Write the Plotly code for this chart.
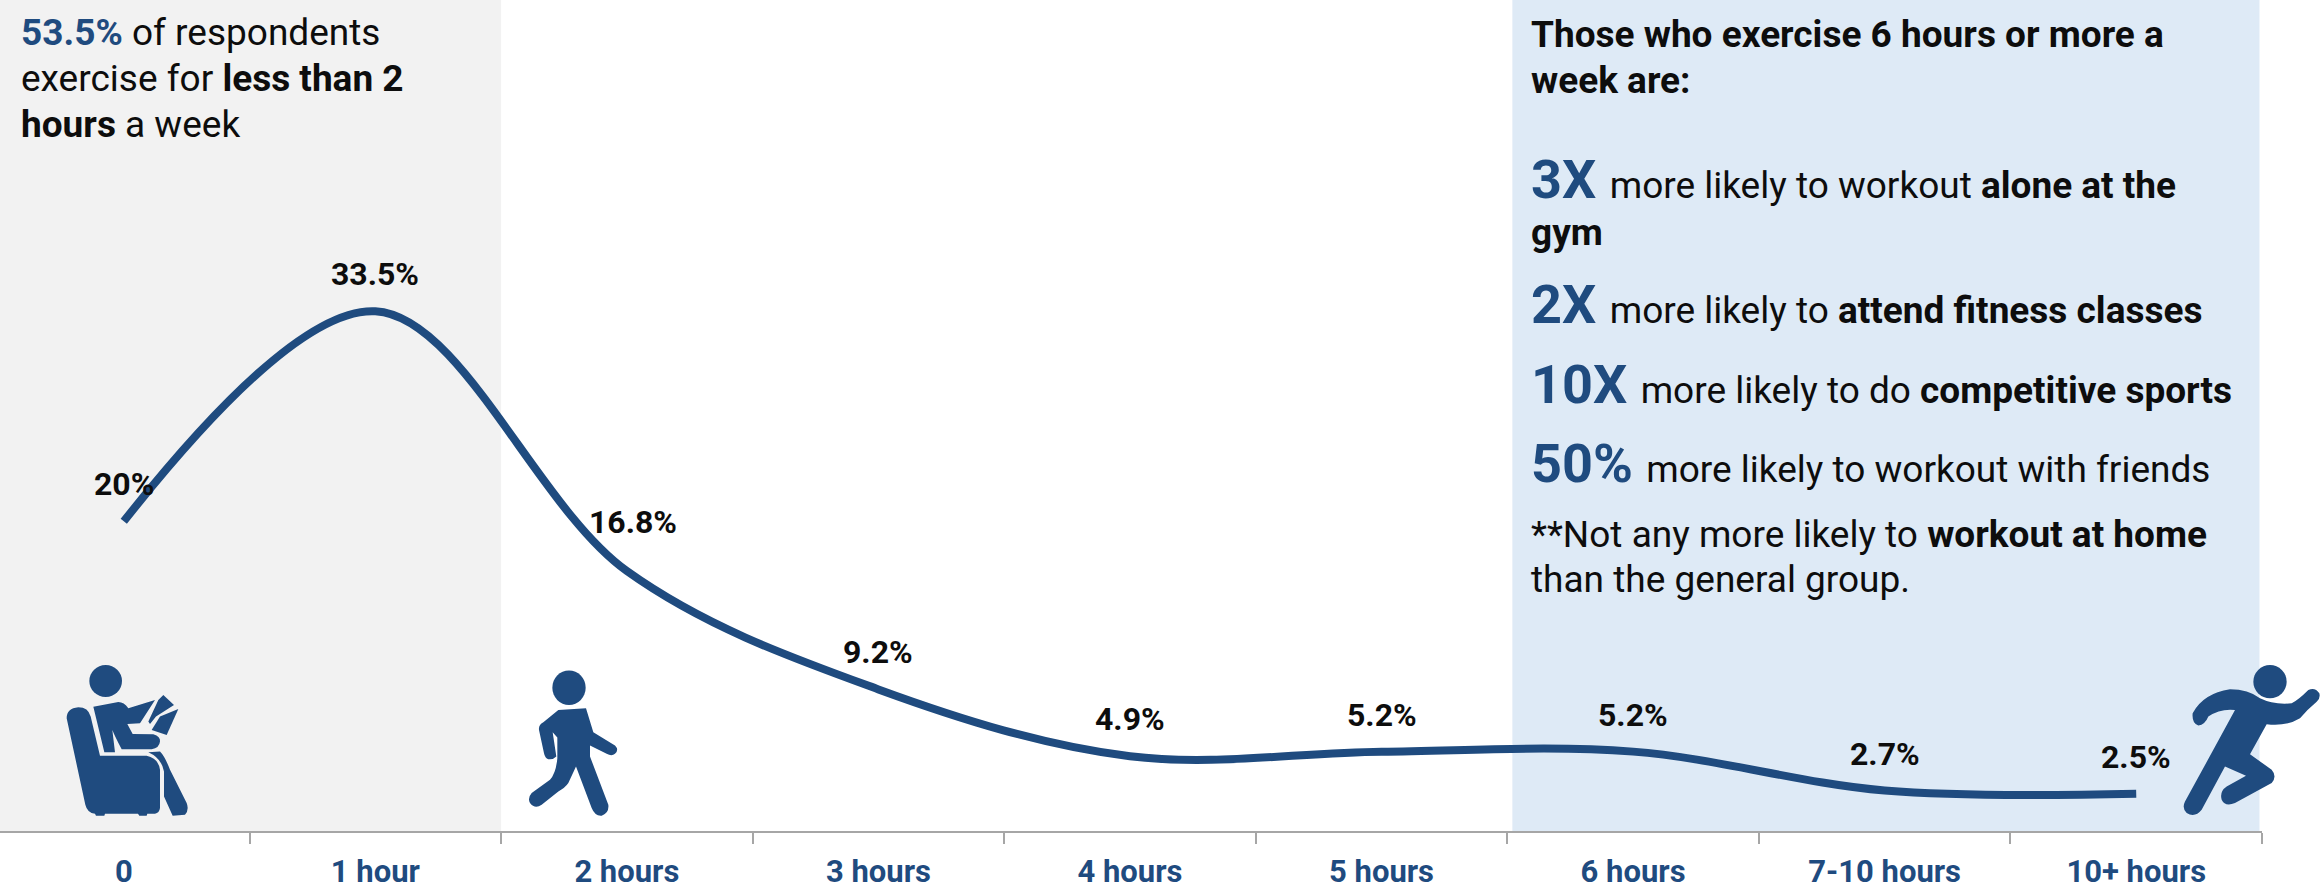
import base64
import plotly.graph_objects as go

# Weekly exercise distribution
categories = ["0", "1 hour", "2 hours", "3 hours", "4 hours", "5 hours", "6 hours", "7-10 hours", "10+ hours"]
shares = [20, 33.5, 16.8, 9.2, 4.9, 5.2, 5.2, 2.7, 2.5]

BLUE = "#1f4b7f"
INK = "#0d0d0d"
FONT = "Roboto"

WIDTH, HEIGHT = 2320, 890
PLOT_W, PLOT_H = 2262, 833


def px_x(x):
    return x / PLOT_W


def px_y(y):
    return 1 - y / PLOT_H


def big(text):
    return f'<span style="font-size:54px;color:{BLUE}"><b>{text} </b></span>'


# Panel copy: (left, vertical centre, rich text)
note_lines = [
    (19, 33, f'<span style="color:{BLUE}"><b>53.5%</b></span> of respondents'),
    (19, 79, "exercise for <b>less than 2</b>"),
    (19, 125, "<b>hours</b> a week"),
    (1529, 35, "<b>Those who exercise 6 hours or more a</b>"),
    (1529, 81, "<b>week are:</b>"),
    (1529, 180, big("3X") + "more likely to workout <b>alone at the</b>"),
    (1529, 233, "<b>gym</b>"),
    (1529, 305, big("2X") + "more likely to <b>attend fitness classes</b>"),
    (1529, 385, big("10X") + "more likely to do <b>competitive sports</b>"),
    (1529, 465, big("50%") + "more likely to workout with friends"),
    (1529, 536, "**Not any more likely to <b>workout at home</b>"),
    (1529, 581, "than the general group."),
]

# Pictograms, each in a local viewBox: (left, top, width, height, svg body)
ICON_SEATED = """
<ellipse cx="167" cy="83" rx="49" ry="48"/>
<path d="M50 195Q50 165 85 162Q115 162 122 190L150 308L290 308Q325 315 330 350L330 465Q328 480 315 482L292 482L290 488L268 488L264 482L165 482L163 488L138 488L135 482Q112 480 106 455Z"/>
<path d="M130 160L205 146Q222 146 235 165L315 140L270 210L232 212L248 242L310 243Q332 250 330 265Q328 285 305 288L215 288Q195 250 187 230L195 297L163 297Z"/>
<path d="M295 205L325 140L340 125L372 155L318 190L300 212Z"/>
<path d="M305 230L330 190L385 167L350 245Z"/>
<path d="M295 297L330 295Q345 310 360 350L410 450Q418 470 405 485L368 488L342 430L342 355Q335 315 295 297Z"/>
"""
ICON_WALKER = """
<ellipse cx="207" cy="88" rx="50" ry="52"/>
<path d="M175 155L258 150L280 222L345 262Q358 275 345 287Q335 295 320 287L270 262L270 295L325 440Q328 465 305 473Q285 475 275 450L228 325L205 375Q195 390 175 400L125 440Q105 455 90 435Q82 420 95 405L150 365Q168 345 172 300L172 238L158 222L169 295Q160 305 145 303Q135 300 132 285L117 215Q115 200 130 192Z"/>
"""
ICON_RUNNER = """
<circle cx="300" cy="85" r="50"/>
<path d="M68 180Q100 120 180 108Q235 108 270 135Q310 155 365 150Q385 140 415 110Q435 100 448 120Q452 135 440 145Q410 170 390 195Q350 220 290 213L240 303L305 350Q322 370 305 390L195 450Q165 462 155 440Q148 415 170 400L228 368L165 340L95 470Q75 495 50 480Q35 465 45 445L130 290L195 170Q150 165 115 190Q105 215 85 217Q65 210 68 180Z"/>
"""
icons = [
    (50, 655, 160, 175, ICON_SEATED),
    (500, 660, 140, 170, ICON_WALKER),
    (2170, 655, 150, 175, ICON_RUNNER),
]


def icon_image(left, top, w, h, body):
    svg = (
        f'<svg xmlns="http://www.w3.org/2000/svg" width="{w * 3}" height="{h * 3}" '
        f'viewBox="0 0 {w * 3} {h * 3}" fill="{BLUE}">{body}</svg>'
    )
    uri = "data:image/svg+xml;base64," + base64.b64encode(svg.encode()).decode()
    return dict(
        source=uri, xref="paper", yref="paper", x=px_x(left), y=px_y(top),
        sizex=w / PLOT_W, sizey=h / PLOT_H, xanchor="left", yanchor="top",
        sizing="stretch", layer="above",
    )


fig = go.Figure(
    go.Scatter(
        x=categories, y=shares, mode="lines",
        line=dict(color=BLUE, width=8, shape="spline", smoothing=1),
        hoverinfo="x+y",
    )
)

# Shaded ranges behind the curve
fig.add_shape(type="rect", xref="x", yref="paper", x0=-0.5, x1=1.5, y0=0, y1=1,
              fillcolor="#f2f2f2", line_width=0, layer="below")
fig.add_shape(type="rect", xref="x", yref="paper", x0=5.52, x1=8.49, y0=0, y1=1,
              fillcolor="#deeaf6", line_width=0, layer="below")

# Value labels sit above each point; the 2-hour label clears the falling curve
for cat, value in zip(categories, shares):
    nudge = (6, 12) if cat == "2 hours" else (0, 0)
    fig.add_annotation(
        x=cat, y=value, text=f"<b>{value:g}%</b>", showarrow=False,
        xanchor="center", yanchor="middle", xshift=nudge[0], yshift=37 + nudge[1],
        font=dict(family=FONT, size=32, color=INK),
    )

for left, centre, text in note_lines:
    fig.add_annotation(
        xref="paper", yref="paper", x=px_x(left), y=px_y(centre), text=text,
        showarrow=False, xanchor="left", yanchor="middle", align="left",
        font=dict(family=FONT, size=37, color=INK),
    )

fig.update_layout(
    width=WIDTH, height=HEIGHT, autosize=False,
    margin=dict(l=0, r=WIDTH - PLOT_W, t=0, b=HEIGHT - PLOT_H, pad=0),
    paper_bgcolor="white", plot_bgcolor="white", showlegend=False,
    images=[icon_image(*icon) for icon in icons],
    xaxis=dict(
        type="category", categoryorder="array", categoryarray=categories,
        range=[-0.492, 8.5], tickson="boundaries", ticks="outside", ticklen=11,
        tickwidth=2, tickcolor="#a6a6a6", showline=True, linecolor="#a6a6a6",
        linewidth=2, showgrid=False, zeroline=False, ticklabelstandoff=12,
        tickfont=dict(family=FONT, size=31, color=BLUE, weight="bold"),
    ),
    yaxis=dict(range=[0.1, 53.5], visible=False, showgrid=False, zeroline=False),
)

fig.write_html("out.html")
